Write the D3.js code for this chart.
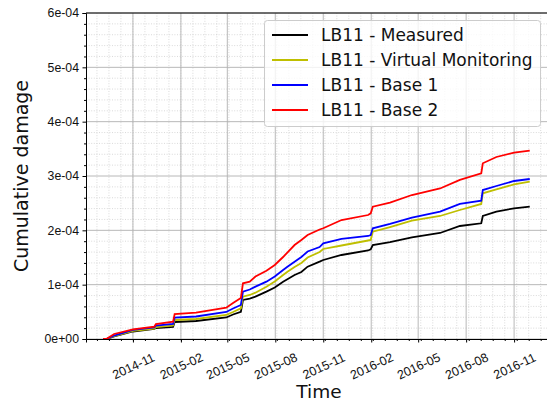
<!DOCTYPE html>
<html>
<head>
<meta charset="utf-8">
<script src="https://cdn.jsdelivr.net/npm/d3@7"></script>
<style>
  html, body { margin: 0; padding: 0; background: #fff; }
  svg { display: block; font-family: "DejaVu Sans", sans-serif; }
</style>
</head>
<body>
<svg id="chart" width="547" height="403"></svg>
<script>
// Sample dates shared by every series
const dates = ["2014-09-05","2014-09-11","2014-09-26","2014-11-01","2014-12-12","2014-12-15",
  "2015-01-17","2015-01-20","2015-03-02","2015-04-29","2015-05-12","2015-05-27","2015-05-31",
  "2015-06-13","2015-06-24","2015-07-15","2015-07-31","2015-08-16","2015-08-25","2015-09-07",
  "2015-09-20","2015-10-02","2015-10-25","2015-11-01","2015-12-06","2016-01-26","2016-01-31",
  "2016-02-04","2016-03-08","2016-04-19","2016-06-12","2016-07-20","2016-08-30","2016-09-02",
  "2016-09-28","2016-11-01","2016-12-01"];

// Cumulative damage, in units of 1e-5
const UNIT = 1e-5;
const measured = [0, 0, 0.46, 1.38, 1.84, 2.02, 2.21, 3.13, 3.31, 3.96, 4.51, 5.02, 7.18, 7.45, 7.79,
  8.71, 9.48, 10.55, 11.04, 11.78, 12.33, 13.31, 14.23, 14.54, 15.46, 16.29, 16.51, 17.30, 17.85,
  18.72, 19.51, 20.80, 21.30, 22.64, 23.43, 24.06, 24.35];
const virtualMonitoring = [0, 0, 0.55, 1.51, 1.93, 2.21, 2.48, 3.50, 3.68, 4.42, 4.97, 5.65, 7.79,
  8.10, 8.52, 9.63, 10.58, 11.78, 12.42, 13.25, 13.99, 15.00, 16.01, 16.57, 17.21, 18.13, 18.22,
  19.75, 20.61, 21.77, 22.64, 23.74, 24.85, 26.82, 27.52, 28.47, 28.95];
const base1 = [0, 0, 0.64, 1.66, 2.12, 2.48, 2.76, 3.92, 4.14, 4.97, 5.61, 6.26, 8.71, 9.11, 9.63,
  10.55, 11.50, 12.70, 13.34, 14.23, 15.09, 16.11, 16.93, 17.61, 18.41, 18.96, 19.14, 20.38, 21.17,
  22.33, 23.43, 24.85, 25.46, 27.42, 28.16, 29.08, 29.45];
const base2 = [0, 0, 0.92, 1.79, 2.26, 2.76, 3.18, 4.60, 4.84, 5.76, 6.63, 7.55, 10.25, 10.55, 11.5,
  12.57, 13.62, 15.09, 16.01, 17.30, 18.22, 19.14, 20.15, 20.38, 21.90, 22.82, 23.13, 24.35, 25.09,
  26.50, 27.70, 29.27, 30.50, 32.34, 33.50, 34.29, 34.66];

const seriesNames = ["LB11 - Measured", "LB11 - Virtual Monitoring", "LB11 - Base 1", "LB11 - Base 2"];
const seriesValues = [measured, virtualMonitoring, base1, base2];
const seriesColors = ["#000000", "#bfbf00", "#0000ff", "#ff0000"];

// Axis ticks
const xTickDates = ["2014-11-01","2015-02-01","2015-05-01","2015-08-01","2015-11-01",
  "2016-02-01","2016-05-01","2016-08-01","2016-11-01"];
const xTickLabels = ["2014-11","2015-02","2015-05","2015-08","2015-11","2016-02","2016-05","2016-08","2016-11"];
const yTickValues = [0, 1e-4, 2e-4, 3e-4, 4e-4, 5e-4, 6e-4];
const yTickLabels = ["0e+00","1e-04","2e-04","3e-04","4e-04","5e-04","6e-04"];

const parse = d3.utcParse("%Y-%m-%d");
const svg = d3.select("#chart");
const plotL = 86, plotR = 548, plotT = 13, plotB = 339;

const x = d3.scaleUtc()
  .domain([parse("2014-08-03"), parse("2017-01-05")])
  .range([plotL, plotR]);
const y = d3.scaleLinear().domain([0, 6e-4]).range([plotB, plotT]);

// Minor ticks: x every 23 days from the first major tick, y every 2e-5
const DAY = 864e5;
const x0 = parse(xTickDates[0]).getTime();
const xMinor = [];
for (let k = -4; k <= 40; k++) {
  const t = new Date(x0 + k * 23 * DAY);
  if (t >= x.domain()[0] && t <= x.domain()[1]) xMinor.push(t);
}
const yMinor = d3.range(0, 31).map(i => i * 2e-5).filter((v, i) => i % 5 !== 0);

const grid = svg.append("g");
// minor grid
grid.selectAll(".vminor").data(xMinor).join("line")
  .attr("x1", d => x(d)).attr("x2", d => x(d)).attr("y1", plotT).attr("y2", plotB)
  .attr("stroke", "#d0d0d0").attr("stroke-width", 0.8).attr("stroke-dasharray", "1,1.6");
grid.selectAll(".hminor").data(yMinor).join("line")
  .attr("x1", plotL).attr("x2", plotR).attr("y1", d => y(d)).attr("y2", d => y(d))
  .attr("stroke", "#d0d0d0").attr("stroke-width", 0.8).attr("stroke-dasharray", "1,1.6");
// major grid
grid.selectAll(".vmajor").data(xTickDates.map(parse)).join("line")
  .attr("x1", d => x(d)).attr("x2", d => x(d)).attr("y1", plotT).attr("y2", plotB)
  .attr("stroke", "#b0b0b0").attr("stroke-width", 0.9);
grid.selectAll(".hmajor").data(yTickValues).join("line")
  .attr("x1", plotL).attr("x2", plotR).attr("y1", d => y(d)).attr("y2", d => y(d))
  .attr("stroke", "#b0b0b0").attr("stroke-width", 0.9);

// series lines
const line = d3.line().x(d => x(d[0])).y(d => y(d[1]));
seriesValues.forEach((vals, i) => {
  const pts = dates.map((d, j) => [parse(d), vals[j] * UNIT]);
  svg.append("path").datum(pts)
    .attr("d", line).attr("fill", "none")
    .attr("stroke", seriesColors[i]).attr("stroke-width", 1.8)
    .attr("stroke-linejoin", "miter");
});

// axes
const xAxis = svg.append("g").attr("transform", `translate(0,${plotB})`)
  .call(d3.axisBottom(x).tickValues(xTickDates.map(parse))
    .tickFormat((d, i) => xTickLabels[i]).tickSize(3.5).tickPadding(3));
xAxis.select(".domain").attr("stroke", "#000").attr("stroke-width", 1);
xAxis.selectAll("text")
  .attr("font-size", 12.5).attr("fill", "#111")
  .attr("text-anchor", "middle")
  .attr("transform", "translate(0,27) rotate(-25)")
  .attr("dy", "0.35em").attr("y", 0);
svg.append("g").attr("transform", `translate(0,${plotB})`)
  .call(d3.axisBottom(x).tickValues(xMinor).tickFormat("").tickSize(2))
  .call(g => g.select(".domain").remove());

const yAxis = svg.append("g").attr("transform", `translate(${plotL},0)`)
  .call(d3.axisLeft(y).tickValues(yTickValues)
    .tickFormat((d, i) => yTickLabels[i]).tickSize(3.5).tickPadding(3.5));
yAxis.select(".domain").attr("stroke", "#000").attr("stroke-width", 1);
yAxis.selectAll("text").attr("font-size", 12.3).attr("fill", "#111");
svg.append("g").attr("transform", `translate(${plotL},0)`)
  .call(d3.axisLeft(y).tickValues(yMinor).tickFormat("").tickSize(2))
  .call(g => g.select(".domain").remove());

// top spine
svg.append("line").attr("x1", plotL).attr("x2", plotR).attr("y1", plotT).attr("y2", plotT)
  .attr("stroke", "#000").attr("stroke-width", 1);

// axis titles
svg.append("text").attr("x", 319).attr("y", 398)
  .attr("text-anchor", "middle").attr("font-size", 18.5).attr("fill", "#111").text("Time");
svg.append("text")
  .attr("transform", `translate(28,${(plotT + plotB) / 2}) rotate(-90)`)
  .attr("text-anchor", "middle").attr("font-size", 19).attr("fill", "#111")
  .text("Cumulative damage");

// legend
const lg = svg.append("g");
lg.append("rect").attr("x", 264.5).attr("y", 20.5).attr("width", 276).attr("height", 106)
  .attr("rx", 3).attr("fill", "#fff").attr("fill-opacity", 0.8)
  .attr("stroke", "#cccccc").attr("stroke-width", 1);
seriesNames.forEach((name, i) => {
  const yy = 35 + i * 25;
  lg.append("line").attr("x1", 272).attr("x2", 308).attr("y1", yy).attr("y2", yy)
    .attr("stroke", seriesColors[i]).attr("stroke-width", 1.8);
  lg.append("text").attr("x", 321).attr("y", yy).attr("dy", "0.36em")
    .attr("font-size", 17).attr("fill", "#111").text(name);
});
</script>
</body>
</html>
